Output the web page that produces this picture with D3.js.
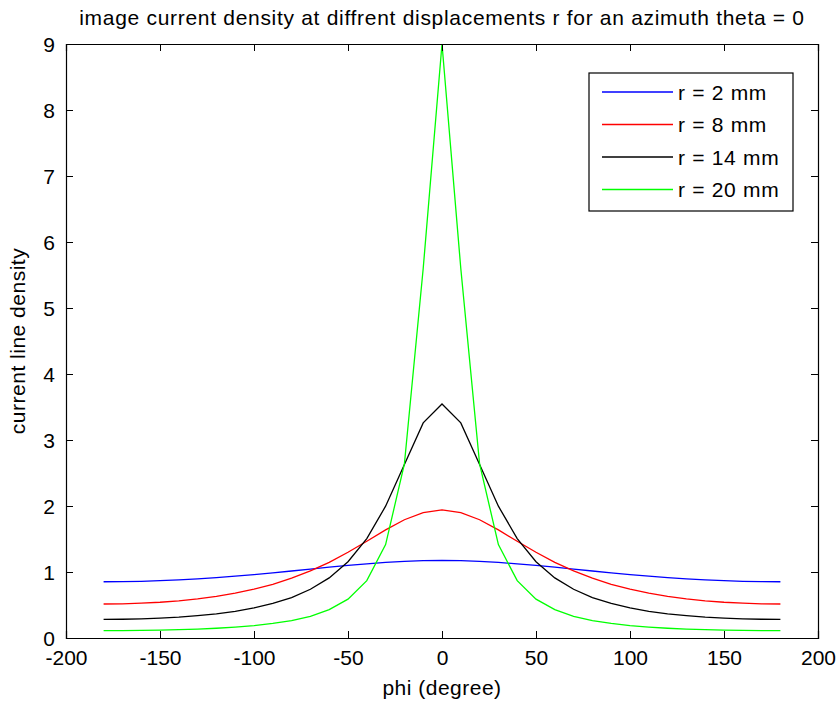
<!DOCTYPE html>
<html>
<head>
<meta charset="utf-8">
<script src="https://d3js.org/d3.v7.min.js"></script>
<style>
  body { margin: 0; background: #fff; }
  svg text { font-family: "Liberation Sans", Arial, sans-serif; fill: #000; }
</style>
</head>
<body>
<svg id="chart"></svg>
<script>
const phi = [-180, -170, -160, -150, -140, -130, -120, -110, -100, -90, -80, -70, -60, -50, -40, -30, -20, -10, 0,
  10, 20, 30, 40, 50, 60, 70, 80, 90, 100, 110, 120, 130, 140, 150, 160, 170, 180]

const r2 = [0.852, 0.854, 0.859, 0.868, 0.880, 0.896, 0.915, 0.936, 0.961, 0.987, 1.015, 1.044, 1.073, 1.100, 1.124, 1.145, 1.161, 1.171, 1.174,
  1.171, 1.161, 1.145, 1.124, 1.100, 1.073, 1.044, 1.015, 0.987, 0.961, 0.936, 0.915, 0.896, 0.880, 0.868, 0.859, 0.854, 0.852]
const r8 = [0.515, 0.518, 0.527, 0.542, 0.564, 0.593, 0.631, 0.679, 0.740, 0.814, 0.906, 1.016, 1.147, 1.299, 1.466, 1.638, 1.792, 1.901, 1.941,
  1.901, 1.792, 1.638, 1.466, 1.299, 1.147, 1.016, 0.906, 0.814, 0.740, 0.679, 0.631, 0.593, 0.564, 0.542, 0.527, 0.518, 0.515]
const r14 = [0.282, 0.284, 0.290, 0.301, 0.316, 0.338, 0.366, 0.405, 0.455, 0.523, 0.613, 0.738, 0.911, 1.156, 1.507, 1.997, 2.628, 3.259, 3.545,
  3.259, 2.628, 1.997, 1.507, 1.156, 0.911, 0.738, 0.613, 0.523, 0.455, 0.405, 0.366, 0.338, 0.316, 0.301, 0.290, 0.284, 0.282]
const r20 = [0.111, 0.112, 0.115, 0.119, 0.126, 0.135, 0.148, 0.165, 0.188, 0.220, 0.264, 0.329, 0.429, 0.589, 0.869, 1.415, 2.637, 5.598, 9.000,
  5.598, 2.637, 1.415, 0.869, 0.589, 0.429, 0.329, 0.264, 0.220, 0.188, 0.165, 0.148, 0.135, 0.126, 0.119, 0.115, 0.112, 0.111]

const seriesNames = ["r = 2 mm", "r = 8 mm", "r = 14 mm", "r = 20 mm"]
const seriesColors = ["#0000ff", "#ff0000", "#000000", "#00ff00"]
const seriesValues = [r2, r8, r14, r20]

const xTicks = [-200, -150, -100, -50, 0, 50, 100, 150, 200]
const yTicks = [0, 1, 2, 3, 4, 5, 6, 7, 8, 9]

const width = 837, height = 702
const margin = { top: 44, right: 19, bottom: 64, left: 66 }
const fs = 21

const svg = d3.select("#chart").attr("width", width).attr("height", height)

const x = d3.scaleLinear().domain([-200, 200]).range([margin.left, width - margin.right])
const y = d3.scaleLinear().domain([0, 9]).range([height - margin.bottom, margin.top])

const plot = svg.append("g")

// lines
const line = d3.line().x((d) => x(d[0])).y((d) => y(d[1]))
seriesValues.forEach((vals, i) => {
  plot.append("path")
    .datum(phi.map((p, j) => [p, vals[j]]))
    .attr("fill", "none")
    .attr("stroke", seriesColors[i])
    .attr("stroke-width", 1.3)
    .attr("d", line)
})

// axes, MATLAB style box with inward ticks
const tickLen = 7
const fmt = (d) => String(d)
const axB = svg.append("g").attr("transform", `translate(0,${y(0)})`)
  .call(d3.axisBottom(x).tickValues(xTicks).tickSize(-tickLen).tickFormat(fmt))
const axT = svg.append("g").attr("transform", `translate(0,${y(9)})`)
  .call(d3.axisTop(x).tickValues(xTicks).tickSize(-tickLen).tickFormat(""))
const axL = svg.append("g").attr("transform", `translate(${x(-200)},0)`)
  .call(d3.axisLeft(y).tickValues(yTicks).tickSize(-tickLen).tickPadding(11).tickFormat(fmt))
const axR = svg.append("g").attr("transform", `translate(${x(200)},0)`)
  .call(d3.axisRight(y).tickValues(yTicks).tickSize(-tickLen).tickFormat(""))

;[axB, axT, axL, axR].forEach((a) => {
  a.select(".domain").attr("stroke", "#000").attr("stroke-width", 1.2)
  a.selectAll(".tick line").attr("stroke", "#000")
  a.selectAll("text").style("font-family", "Liberation Sans, Arial, sans-serif")
    .style("font-size", fs + "px").attr("fill", "#000")
})
axB.selectAll(".tick text").attr("y", 27).attr("dy", 0)
axL.selectAll(".tick text").attr("dy", "0.36em")

// title and labels
svg.append("text").attr("x", x(0)).attr("y", 25)
  .attr("text-anchor", "middle").style("font-size", fs + "px")
  .style("letter-spacing", "0.7px")
  .text("image current density at diffrent displacements r for an azimuth theta = 0")
svg.append("text").attr("x", x(0)).attr("y", 695)
  .attr("text-anchor", "middle").style("font-size", fs + "px")
  .style("letter-spacing", "0.5px")
  .text("phi (degree)")
svg.append("text").attr("transform", `translate(25,${(y(0) + y(9)) / 2}) rotate(-90)`)
  .attr("text-anchor", "middle").style("font-size", fs + "px")
  .style("letter-spacing", "0.5px")
  .text("current line density")

// legend
const lg = svg.append("g").attr("transform", "translate(589,73)")
lg.append("rect").attr("width", 204).attr("height", 138)
  .attr("fill", "#fff").attr("stroke", "#000").attr("stroke-width", 1.2)
seriesNames.forEach((name, i) => {
  const yy = 19 + i * 32.5
  lg.append("line").attr("x1", 13).attr("x2", 84).attr("y1", yy).attr("y2", yy)
    .attr("stroke", seriesColors[i]).attr("stroke-width", 1.3)
  lg.append("text").attr("x", 89).attr("y", yy).attr("dy", "0.36em")
    .style("font-size", fs + "px").style("letter-spacing", "0.7px").text(name)
})
</script>
</body>
</html>
